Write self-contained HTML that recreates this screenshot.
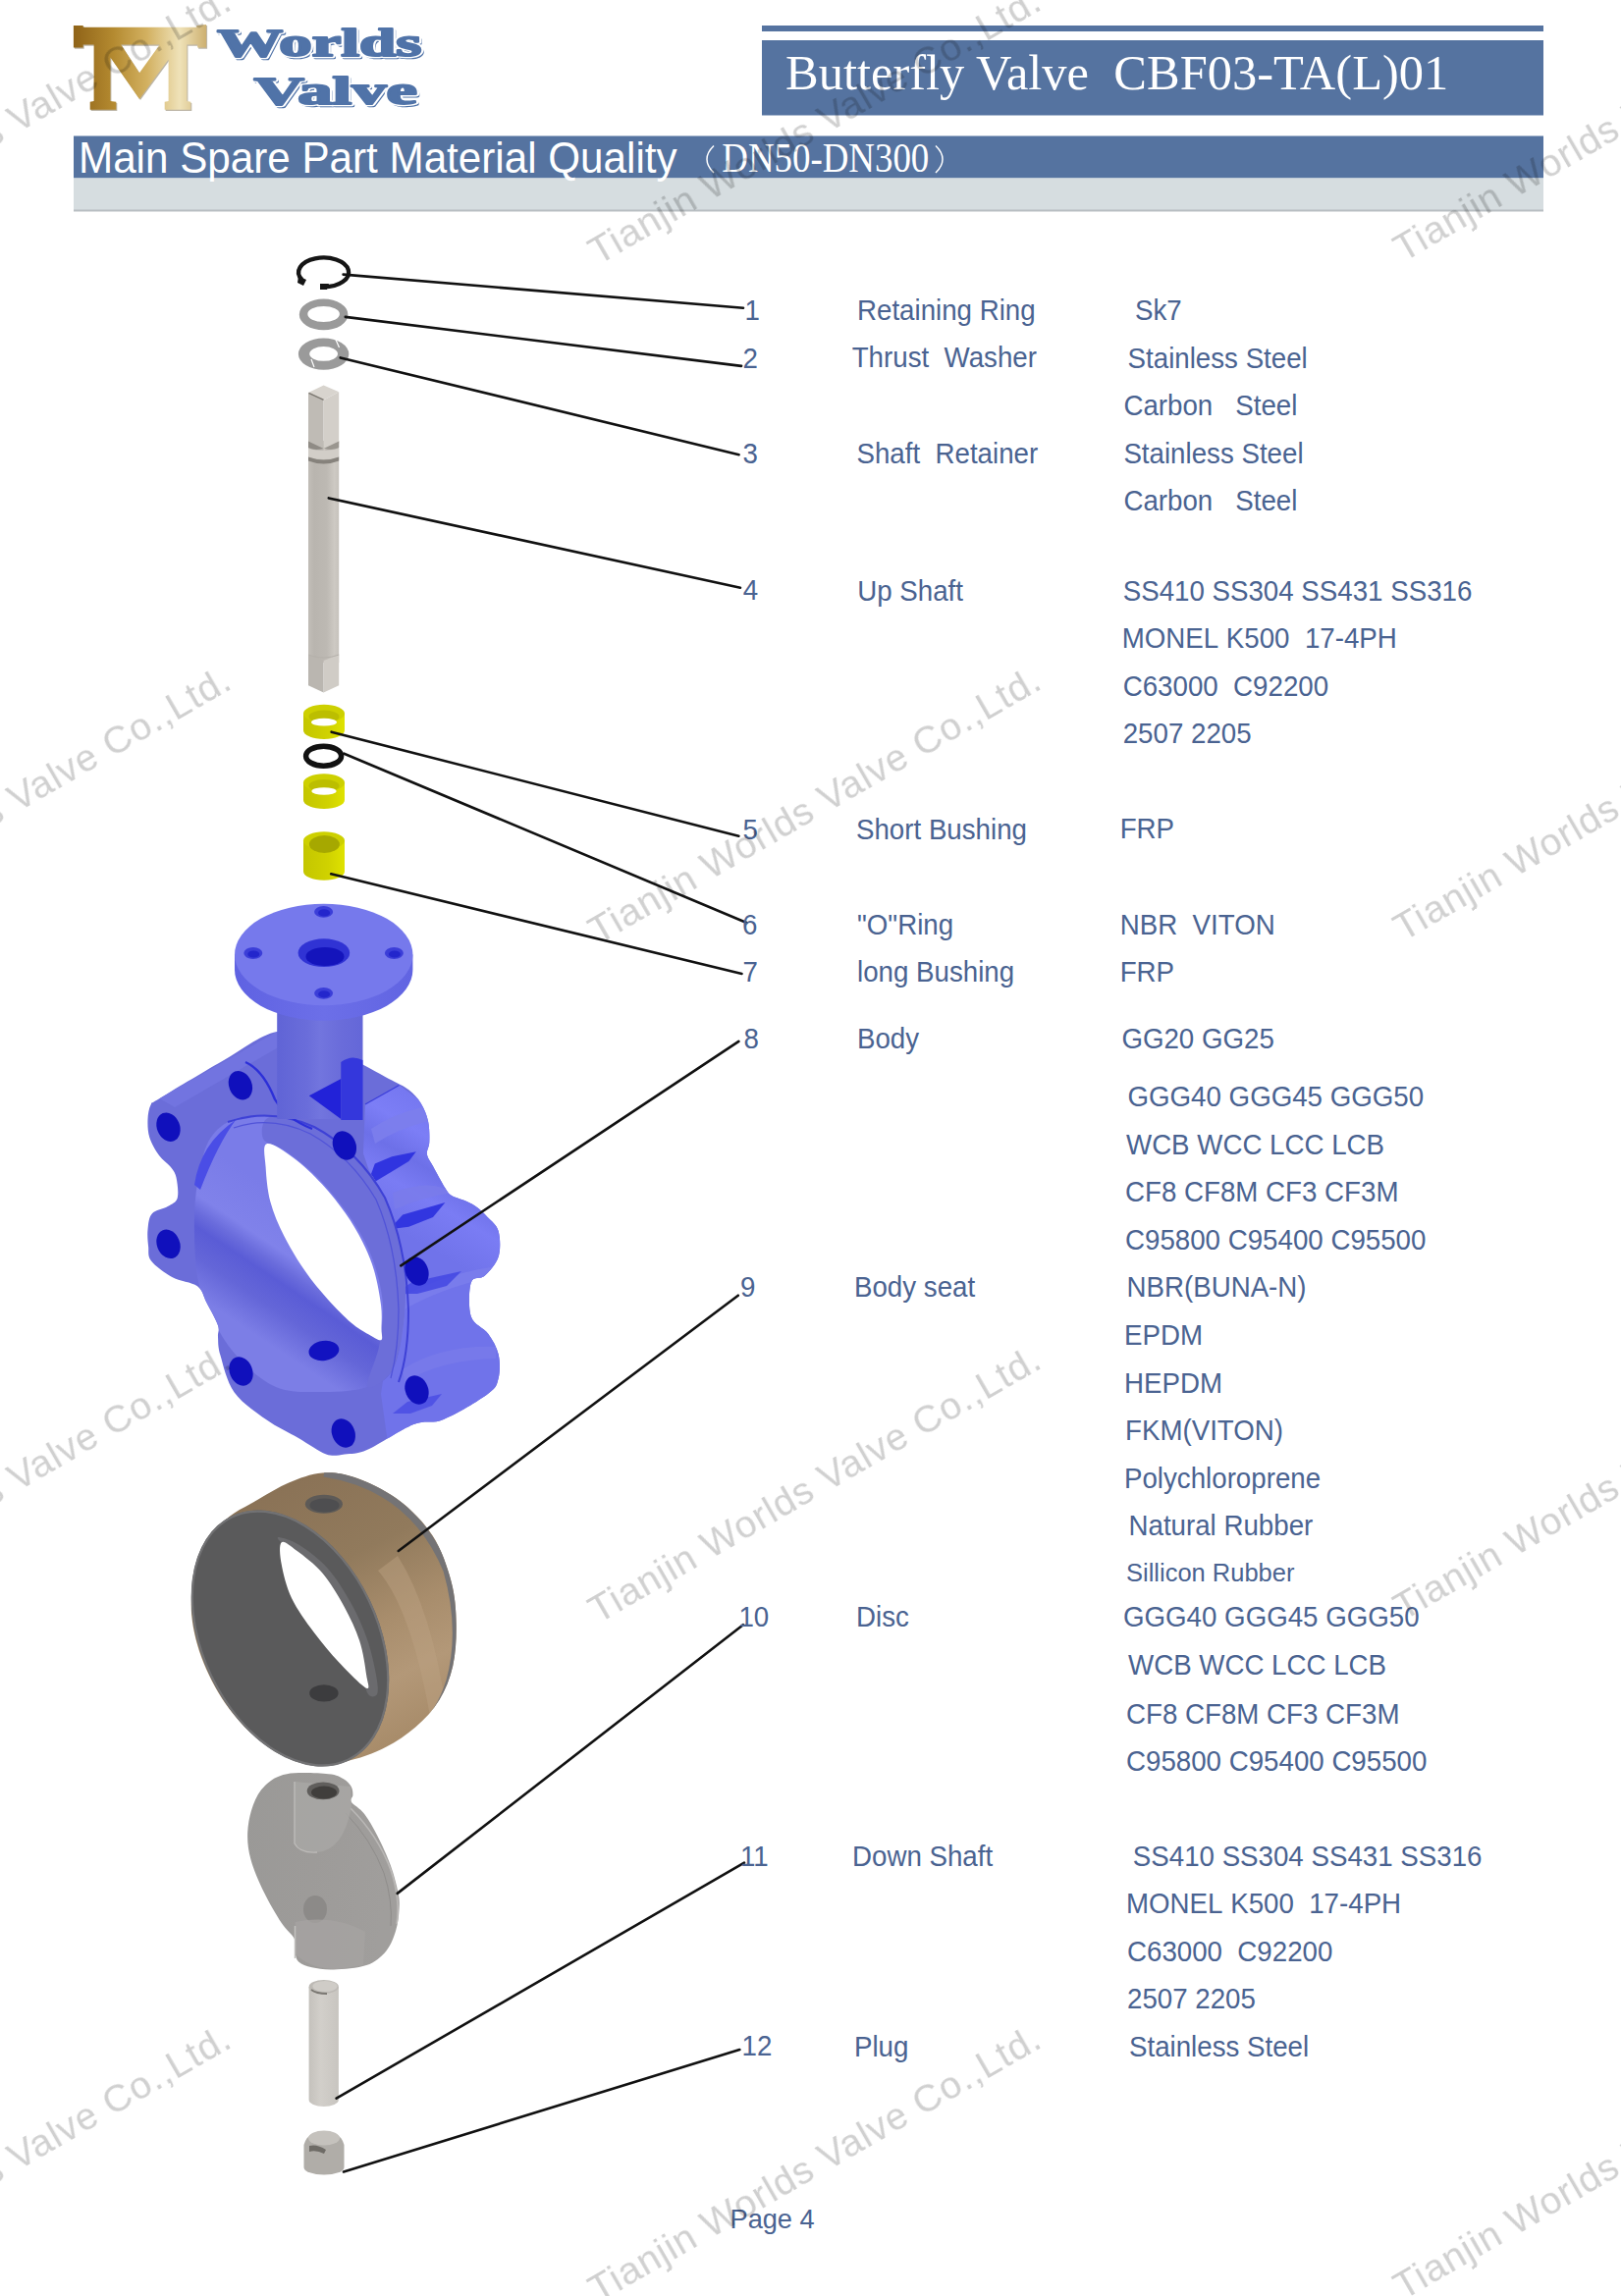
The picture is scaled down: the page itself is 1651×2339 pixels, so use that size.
<!DOCTYPE html>
<html><head><meta charset="utf-8"><style>
html,body{margin:0;padding:0;background:#fff;}
body{width:1651px;height:2339px;overflow:hidden;position:relative;}
svg{position:absolute;left:0;top:0;display:block;}
svg{font-family:"Liberation Sans",sans-serif;}
</style></head><body>
<svg width="1651" height="2339" viewBox="0 0 1651 2339" xmlns="http://www.w3.org/2000/svg">
<defs>
<linearGradient id="gold" x1="0" x2="1" y1="0" y2="0"><stop offset="0" stop-color="#8f6318"/><stop offset="0.3" stop-color="#b48a30"/><stop offset="0.55" stop-color="#d2b060"/><stop offset="0.8" stop-color="#efe2b8"/><stop offset="1" stop-color="#cdb070"/></linearGradient>
</defs>
<path d="M74.9,25.9 L84.7,25.9 L84.7,27.8 L200.2,27.8 L200.2,25.9 L210.1,24.9 L210.1,48.6 L201.2,48.6 L201.2,45.6 L190.4,45.6 L190.4,102.9 L194.3,103.8 L194.3,111.7 L167.7,111.7 L167.7,103.8 L171.6,102.9 L171.6,60.4 L142,100.9 L112.4,58.4 L112.4,102.9 L118.3,103.8 L118.3,111.7 L91.7,111.7 L91.7,103.8 L95.6,102.9 L95.6,45.6 L84.7,45.6 L84.7,48.6 L74.9,48.6Z M123.2,45.6 L162.7,45.6 L142,74.2Z" fill="#6b5a3a" fill-rule="evenodd" transform="translate(1 1.2)" opacity="0.45"/>
<path d="M74.9,25.9 L84.7,25.9 L84.7,27.8 L200.2,27.8 L200.2,25.9 L210.1,24.9 L210.1,48.6 L201.2,48.6 L201.2,45.6 L190.4,45.6 L190.4,102.9 L194.3,103.8 L194.3,111.7 L167.7,111.7 L167.7,103.8 L171.6,102.9 L171.6,60.4 L142,100.9 L112.4,58.4 L112.4,102.9 L118.3,103.8 L118.3,111.7 L91.7,111.7 L91.7,103.8 L95.6,102.9 L95.6,45.6 L84.7,45.6 L84.7,48.6 L74.9,48.6Z M123.2,45.6 L162.7,45.6 L142,74.2Z" fill="url(#gold)" fill-rule="evenodd"/>
<g font-family="Liberation Serif" font-weight="bold" font-size="40" style="font-family:'Liberation Serif',serif" stroke-linejoin="round">
<text x="223.2" y="58.8" textLength="208" lengthAdjust="spacingAndGlyphs" fill="#5073a8" stroke="#5073a8" stroke-width="2.6">Worlds</text>
<text x="221.2" y="56.8" textLength="208" lengthAdjust="spacingAndGlyphs" fill="#fff" stroke="#fff" stroke-width="4.6">Worlds</text>
<text x="221.2" y="56.8" textLength="208" lengthAdjust="spacingAndGlyphs" fill="#5073a8" stroke="#5073a8" stroke-width="2">Worlds</text>
<text x="260.8" y="108" textLength="166" lengthAdjust="spacingAndGlyphs" fill="#5073a8" stroke="#5073a8" stroke-width="2.6">Valve</text>
<text x="258.8" y="106" textLength="166" lengthAdjust="spacingAndGlyphs" fill="#fff" stroke="#fff" stroke-width="4.6">Valve</text>
<text x="258.8" y="106" textLength="166" lengthAdjust="spacingAndGlyphs" fill="#5073a8" stroke="#5073a8" stroke-width="2">Valve</text>
</g>
<rect x="776" y="26" width="796" height="6" fill="#5573a0"/>
<rect x="776" y="41" width="796" height="76.5" fill="#5573a0"/>
<text x="800" y="90.5" font-family="Liberation Serif" font-size="50.5" fill="#fff" style="font-family:'Liberation Serif',serif">Butterfly Valve&#160; CBF03-TA(L)01</text>
<rect x="75" y="138.5" width="1497" height="43" fill="#5573a0"/>
<rect x="75" y="181.5" width="1497" height="33.5" fill="#d6dde0"/>
<rect x="75" y="213.5" width="1497" height="2" fill="#b8bec2"/>
<text x="80" y="176" font-size="42.2" fill="#fff" transform="translate(0 176) scale(1 1.06) translate(0 -176)">Main Spare Part Material Quality</text>
<text x="735.3" y="175.1" font-family="Liberation Serif" font-size="42.7" fill="#fff" textLength="211" lengthAdjust="spacingAndGlyphs" style="font-family:'Liberation Serif',serif">DN50-DN300</text>
<path d="M727,148.5 Q713,162 727,176" fill="none" stroke="#fff" stroke-width="1.5"/>
<path d="M953,148.5 Q967,162 953,176" fill="none" stroke="#fff" stroke-width="1.5"/>

<path d="M329.6,292.3 A25.5,14.9 0 1 0 307.5,284.8" fill="none" stroke="#151515" stroke-width="4.3"/>
<path d="M304,281 L312,285 L309,291 L303,288Z" fill="#151515"/>
<path d="M326,289 L335,289 L333,295 L326,295Z" fill="#151515"/>
<path d="M354.4,320.4 A24.8,15.9 0 1 0 304.8,320.4 A24.8,15.9 0 1 0 354.4,320.4Z M345.9,320 A16.3,8.1 0 1 1 313.3,320 A16.3,8.1 0 1 1 345.9,320Z" fill="#9a9a9a" fill-rule="evenodd"/>
<path d="M355.3,360.7 A25.7,16.1 0 1 0 303.9,360.7 A25.7,16.1 0 1 0 355.3,360.7Z M344,360.4 A14.4,7.4 0 1 1 315.2,360.4 A14.4,7.4 0 1 1 344,360.4Z" fill="#9a9a9a" fill-rule="evenodd"/>
<path d="M342,346 L345.5,354 M317,366 L320,374" stroke="#fff" stroke-width="1.2"/>
<defs><linearGradient id="shg" x1="0" x2="1" y1="0" y2="0"><stop offset="0" stop-color="#c2beb8"/><stop offset="0.2" stop-color="#b9b5af"/><stop offset="0.6" stop-color="#bdb9b3"/><stop offset="0.85" stop-color="#cdc9c3"/><stop offset="1" stop-color="#c6c2bc"/></linearGradient><linearGradient id="yel" x1="0" x2="1" y1="0" y2="0"><stop offset="0" stop-color="#c4c600"/><stop offset="0.6" stop-color="#d0d200"/><stop offset="1" stop-color="#dfe200"/></linearGradient><linearGradient id="pin" x1="0" x2="1" y1="0" y2="0"><stop offset="0" stop-color="#c4c1bc"/><stop offset="0.4" stop-color="#d2cfca"/><stop offset="1" stop-color="#c8c5c0"/></linearGradient><linearGradient id="brz" x1="0" x2="1" y1="0" y2="0.3"><stop offset="0" stop-color="#9c7e58"/><stop offset="0.5" stop-color="#a88a62"/><stop offset="0.75" stop-color="#b49672"/><stop offset="1" stop-color="#9e8060"/></linearGradient></defs>
<rect x="314" y="449" width="31.2" height="226" fill="url(#shg)"/>
<path d="M314,400 L329.6,407.4 L329.6,459 L314,452Z" fill="#bfbbb5"/>
<path d="M329.6,407.4 L345.2,399.3 L345.2,452 L329.6,459Z" fill="#d3cfc9"/>
<path d="M314,400 L329.6,392.6 L345.2,399.3 L329.6,407.4Z" fill="#d8d4ce"/>
<path d="M314.5,400.3 L329.6,407.4" stroke="#7a766f" stroke-width="1.4"/>
<path d="M314,449.5 L329.6,457 Q320,459.5 314,456Z" fill="#8f8b85"/>
<path d="M345.2,449.5 L329.6,457 Q339,459.5 345.2,456Z" fill="#9a968f"/>
<path d="M314,457 Q329.6,461 345.2,457 L345.2,466 Q329.6,470 314,466Z" fill="#d2cec8"/>
<path d="M314,465.5 Q329.6,471.5 345.2,465.5 L345.2,469.5 Q329.6,475.5 314,469.5Z" fill="#86827c"/>
<path d="M314,667 L329.6,673 L329.6,705.6 L314,698.2Z" fill="#bab6b0"/>
<path d="M329.6,673 L345.2,667 L345.2,698.2 L329.6,705.6Z" fill="#d0ccc6"/>
<path d="M314,667 Q329.6,673 345.2,667" fill="none" stroke="#b5b1ab" stroke-width="1"/>
<path d="M309,726.8 L309,744 A21,9 0 0 0 351,744 L351,726.8Z" fill="url(#yel)"/><ellipse cx="330" cy="726.8" rx="21" ry="9" fill="#cdd000"/><ellipse cx="330" cy="730" rx="15.5" ry="6.5" fill="#bcbe00"/><ellipse cx="330" cy="735.7" rx="13" ry="3.9" fill="#fff"/>
<ellipse cx="329.6" cy="770.2" rx="18" ry="10" fill="none" stroke="#111" stroke-width="5.5"/>
<path d="M309,797.3 L309,815 A21,9 0 0 0 351,815 L351,797.3Z" fill="url(#yel)"/><ellipse cx="330" cy="797.3" rx="21" ry="9" fill="#cdd000"/><ellipse cx="330" cy="800.5" rx="15.5" ry="6.5" fill="#bcbe00"/><ellipse cx="330" cy="806" rx="12.6" ry="3.8" fill="#fff"/>
<path d="M309,856.3 L309,887.7 A21,9 0 0 0 351,887.7 L351,856.3Z" fill="url(#yel)"/><ellipse cx="330" cy="856.3" rx="21" ry="9" fill="#cdd000"/><ellipse cx="330.4" cy="860" rx="15.5" ry="9" fill="#a6a800"/><defs><linearGradient id="neck" x1="0" x2="1"><stop offset="0" stop-color="#6064d6"/><stop offset="0.35" stop-color="#6a6dda"/><stop offset="0.5" stop-color="#7275de"/><stop offset="0.75" stop-color="#6a6cda"/><stop offset="1" stop-color="#6467d8"/></linearGradient><linearGradient id="flside" x1="0" x2="1"><stop offset="0" stop-color="#5f62e2"/><stop offset="0.5" stop-color="#6c6fe8"/><stop offset="1" stop-color="#6164e2"/></linearGradient><linearGradient id="inner" gradientUnits="userSpaceOnUse" x1="290" y1="1220" x2="200" y2="1355"><stop offset="0" stop-color="#7a7ce8"/><stop offset="0.29" stop-color="#8082ea"/><stop offset="0.38" stop-color="#6a6cdc"/><stop offset="0.46" stop-color="#5a5cd6"/><stop offset="0.62" stop-color="#6466d8"/><stop offset="0.82" stop-color="#7c7ee6"/><stop offset="1" stop-color="#7c7ee6"/></linearGradient><linearGradient id="lugside" gradientUnits="userSpaceOnUse" x1="400" y1="1250" x2="470" y2="1130"><stop offset="0" stop-color="#7073ea"/><stop offset="0.3" stop-color="#7a7cf4"/><stop offset="0.5" stop-color="#6d70e8"/><stop offset="0.7" stop-color="#7c7ef6"/><stop offset="1" stop-color="#7375ee"/></linearGradient><clipPath id="bclip"><path d="M282.2,1051.0C264.9,1054.2 246.4,1069.6 226.4,1081.0C206.4,1092.4 174.3,1111.8 162.2,1119.2C150.1,1126.6 155.5,1121.9 153.6,1125.4C151.7,1128.9 150.7,1134.7 150.5,1140.2C150.3,1145.8 150.4,1152.5 152.3,1158.7C154.2,1164.9 158.7,1172.3 162.2,1177.2C165.7,1182.1 170.4,1184.6 173.3,1188.3C176.2,1192.0 178.3,1194.1 179.5,1199.4C180.7,1204.8 182.1,1215.5 180.7,1220.4C179.2,1225.3 175.1,1226.3 170.8,1229.0C166.5,1231.7 158.2,1232.5 154.8,1236.4C151.4,1240.3 151.1,1246.9 150.5,1252.5C149.9,1258.1 150.5,1264.5 151.1,1269.8C151.7,1275.1 150.0,1279.3 154.0,1284.5C158.0,1289.7 167.4,1296.7 175.2,1301.0C183.0,1305.3 195.2,1306.0 201.0,1310.3C206.8,1314.6 206.8,1320.0 210.3,1326.7C213.8,1333.4 220.1,1344.3 222.0,1350.2C223.9,1356.1 221.6,1356.8 222.0,1361.9C222.4,1367.0 221.7,1371.2 224.4,1380.6C227.2,1390.0 230.7,1407.2 238.5,1418.2C246.3,1429.2 260.4,1438.5 271.3,1446.3C282.2,1454.1 293.9,1459.2 304.0,1465.0C314.1,1470.8 324.4,1478.7 332.2,1481.4C340.0,1484.1 344.0,1482.2 351.0,1481.4C358.0,1480.6 362.7,1481.9 374.4,1476.8C386.1,1471.7 408.4,1456.2 421.3,1451.0C434.2,1445.8 439.4,1451.1 452.0,1445.9C464.6,1440.7 487.9,1426.7 497.2,1419.7C506.5,1412.7 505.9,1410.7 507.7,1404.0C509.4,1397.3 509.4,1387.2 507.7,1379.7C505.9,1372.2 501.8,1365.1 497.2,1358.7C492.6,1352.3 482.7,1350.0 479.8,1341.3C476.9,1332.6 477.5,1313.5 479.8,1306.5C482.1,1299.5 489.2,1303.9 493.8,1299.5C498.4,1295.1 505.4,1287.8 507.7,1280.3C510.0,1272.8 509.5,1260.9 507.7,1254.2C505.9,1247.5 500.5,1244.1 496.6,1239.9C492.7,1235.7 488.3,1231.7 484.2,1228.8C480.1,1225.9 476.0,1224.4 471.9,1222.6C467.8,1220.8 462.7,1219.8 459.6,1217.7C456.5,1215.7 456.5,1215.2 453.4,1210.3C450.3,1205.3 444.1,1193.8 441.0,1188.0C437.9,1182.2 435.5,1179.8 434.9,1175.7C434.3,1171.6 437.1,1169.0 437.3,1163.4C437.5,1157.9 437.5,1149.0 436.1,1142.4C434.7,1135.8 432.0,1129.2 428.7,1123.9C425.4,1118.6 421.3,1114.2 416.4,1110.3C411.5,1106.4 406.9,1104.8 399.1,1100.5C391.3,1096.2 381.0,1090.8 369.5,1084.4C358.0,1078.0 344.6,1067.6 330.0,1062.0C315.4,1056.4 299.5,1047.8 282.2,1051.0Z"/></clipPath></defs>
<path d="M282.2,1051.0C264.9,1054.2 246.4,1069.6 226.4,1081.0C206.4,1092.4 174.3,1111.8 162.2,1119.2C150.1,1126.6 155.5,1121.9 153.6,1125.4C151.7,1128.9 150.7,1134.7 150.5,1140.2C150.3,1145.8 150.4,1152.5 152.3,1158.7C154.2,1164.9 158.7,1172.3 162.2,1177.2C165.7,1182.1 170.4,1184.6 173.3,1188.3C176.2,1192.0 178.3,1194.1 179.5,1199.4C180.7,1204.8 182.1,1215.5 180.7,1220.4C179.2,1225.3 175.1,1226.3 170.8,1229.0C166.5,1231.7 158.2,1232.5 154.8,1236.4C151.4,1240.3 151.1,1246.9 150.5,1252.5C149.9,1258.1 150.5,1264.5 151.1,1269.8C151.7,1275.1 150.0,1279.3 154.0,1284.5C158.0,1289.7 167.4,1296.7 175.2,1301.0C183.0,1305.3 195.2,1306.0 201.0,1310.3C206.8,1314.6 206.8,1320.0 210.3,1326.7C213.8,1333.4 220.1,1344.3 222.0,1350.2C223.9,1356.1 221.6,1356.8 222.0,1361.9C222.4,1367.0 221.7,1371.2 224.4,1380.6C227.2,1390.0 230.7,1407.2 238.5,1418.2C246.3,1429.2 260.4,1438.5 271.3,1446.3C282.2,1454.1 293.9,1459.2 304.0,1465.0C314.1,1470.8 324.4,1478.7 332.2,1481.4C340.0,1484.1 344.0,1482.2 351.0,1481.4C358.0,1480.6 362.7,1481.9 374.4,1476.8C386.1,1471.7 408.4,1456.2 421.3,1451.0C434.2,1445.8 439.4,1451.1 452.0,1445.9C464.6,1440.7 487.9,1426.7 497.2,1419.7C506.5,1412.7 505.9,1410.7 507.7,1404.0C509.4,1397.3 509.4,1387.2 507.7,1379.7C505.9,1372.2 501.8,1365.1 497.2,1358.7C492.6,1352.3 482.7,1350.0 479.8,1341.3C476.9,1332.6 477.5,1313.5 479.8,1306.5C482.1,1299.5 489.2,1303.9 493.8,1299.5C498.4,1295.1 505.4,1287.8 507.7,1280.3C510.0,1272.8 509.5,1260.9 507.7,1254.2C505.9,1247.5 500.5,1244.1 496.6,1239.9C492.7,1235.7 488.3,1231.7 484.2,1228.8C480.1,1225.9 476.0,1224.4 471.9,1222.6C467.8,1220.8 462.7,1219.8 459.6,1217.7C456.5,1215.7 456.5,1215.2 453.4,1210.3C450.3,1205.3 444.1,1193.8 441.0,1188.0C437.9,1182.2 435.5,1179.8 434.9,1175.7C434.3,1171.6 437.1,1169.0 437.3,1163.4C437.5,1157.9 437.5,1149.0 436.1,1142.4C434.7,1135.8 432.0,1129.2 428.7,1123.9C425.4,1118.6 421.3,1114.2 416.4,1110.3C411.5,1106.4 406.9,1104.8 399.1,1100.5C391.3,1096.2 381.0,1090.8 369.5,1084.4C358.0,1078.0 344.6,1067.6 330.0,1062.0C315.4,1056.4 299.5,1047.8 282.2,1051.0Z" fill="#6b6dd9"/>
<g clip-path="url(#bclip)">
<path d="M372,1125 L406,1105 L440,1130 L460,1215 L510,1240 L510,1420 L452,1446 L395,1470 L388,1420 L402,1330 L392,1240 L370,1175Z" fill="url(#lugside)"/>
<path d="M378,1150 Q400,1135 430,1128 L436,1142 Q405,1150 382,1165Z" fill="#7c7eec" opacity="0.9"/>
<path d="M395,1330 Q440,1300 505,1290 L506,1300 Q445,1312 398,1342Z" fill="#7c7eec" opacity="0.8"/>
<path d="M400,1215 Q440,1200 460,1215 Q430,1220 402,1232Z" fill="#7a7cea" opacity="0.8"/>
<path d="M410,1395 Q450,1370 505,1372 L505,1384 Q450,1385 412,1408Z" fill="#7a7cea" opacity="0.7"/>
<path d="M373.2,1209 L381.8,1185.6 L399.1,1178.2 L423.8,1173.3 L416.4,1183.1 L397.9,1194.2Z" fill="#3034e0"/>
<path d="M396.6,1252.2 L410.2,1237.4 L453.4,1225.1 L441,1240 L416.4,1249.8Z" fill="#3236e0"/>
<path d="M402,1318 L420,1306 L470,1295 L455,1310 L425,1318Z" fill="#4043e2" opacity="0.8"/>
<path d="M400,1440 L415,1428 L450,1420 L440,1432 L418,1440Z" fill="#4346e2" opacity="0.7"/>
<path d="M372,1125 L406.5,1105.4" stroke="#3a3dd8" stroke-width="1.2"/>
<path d="M162,1119 L282,1051 L292,1062 L178,1128Z" fill="#7577e2" opacity="0.7"/>
<path d="M238.7,1140.0C248.9,1136.3 261.4,1136.3 275.0,1138.0C288.6,1139.7 305.8,1143.8 320.0,1150.0C334.2,1156.2 348.0,1163.3 360.0,1175.0C372.0,1186.7 383.7,1202.5 392.0,1220.0C400.3,1237.5 406.7,1260.0 410.0,1280.0C413.3,1300.0 413.7,1320.8 412.0,1340.0C410.3,1359.2 406.3,1382.8 400.0,1395.0C393.7,1407.2 385.7,1409.2 374.0,1413.0C362.3,1416.8 345.5,1418.0 330.0,1418.0C314.5,1418.0 296.0,1419.3 281.0,1413.0C266.0,1406.7 251.0,1392.2 240.0,1380.0C229.0,1367.8 221.5,1353.3 215.0,1340.0C208.5,1326.7 203.8,1316.7 201.0,1300.0C198.2,1283.3 197.7,1257.5 198.0,1240.0C198.3,1222.5 200.3,1208.3 203.0,1195.0C205.7,1181.7 208.1,1169.2 214.0,1160.0C219.9,1150.8 228.5,1143.7 238.7,1140.0Z" fill="url(#inner)"/>
<path d="M198,1207 Q204,1165 240,1141 Q222,1165 204,1212Z" fill="#4a4de6"/>
<path d="M275.0,1138.0C283.7,1136.3 305.8,1143.8 320.0,1150.0C334.2,1156.2 348.0,1163.3 360.0,1175.0C372.0,1186.7 383.7,1202.5 392.0,1220.0C400.3,1237.5 406.7,1260.0 410.0,1280.0C413.3,1300.0 413.7,1320.8 412.0,1340.0C410.3,1359.2 406.3,1382.8 400.0,1395.0C393.7,1407.2 376.3,1416.8 374.0,1413.0C371.7,1409.2 383.3,1385.8 386.0,1372.0C388.7,1358.2 390.7,1343.7 390.0,1330.0C389.3,1316.3 385.7,1302.0 382.0,1290.0C378.3,1278.0 373.7,1268.3 368.0,1258.0C362.3,1247.7 356.0,1238.3 348.0,1228.0C340.0,1217.7 329.7,1205.3 320.0,1196.0C310.3,1186.7 298.7,1178.0 290.0,1172.0C281.3,1166.0 270.5,1165.7 268.0,1160.0C265.5,1154.3 266.3,1139.7 275.0,1138.0Z" fill="#6c6ed9"/>
<path d="M232,1143 Q275,1128 320,1148 Q365,1172 392,1220 Q414,1270 416,1335 Q416,1380 406,1408" fill="none" stroke="#3e41d6" stroke-width="2"/>
<path d="M238,1149 Q276,1136 316,1155 Q357,1178 383,1222 Q404,1270 406,1334 Q406,1374 398,1404" fill="none" stroke="#5053d8" stroke-width="1.3"/>
<path d="M250,1082 Q268,1090 280,1120 Q292,1140 318,1150" fill="none" stroke="#2c2fd8" stroke-width="2.4"/>
</g>
<path d="M271.7,1165.3C276.4,1163.7 289.4,1172.6 298.8,1179.4C308.2,1186.2 319.4,1197.0 328.2,1206.4C337.0,1215.8 344.8,1226.0 351.7,1235.8C358.6,1245.6 364.4,1255.4 369.3,1265.2C374.2,1275.0 378.0,1283.8 381.1,1294.6C384.2,1305.4 386.9,1320.1 388.1,1329.9C389.3,1339.7 388.5,1347.5 388.5,1353.4C388.5,1359.3 390.3,1364.2 388.1,1365.2C385.9,1366.2 380.3,1362.2 375.2,1359.3C370.1,1356.3 364.5,1353.4 357.6,1347.5C350.8,1341.6 342.0,1332.8 334.1,1324.0C326.2,1315.2 317.9,1305.4 310.5,1294.6C303.1,1283.8 295.3,1271.1 289.4,1259.3C283.5,1247.5 278.4,1235.8 275.3,1224.0C272.2,1212.2 271.2,1198.6 270.6,1188.8C270.0,1179.0 267.0,1166.9 271.7,1165.3Z" fill="#fff"/>
<ellipse cx="244.9" cy="1105.7" rx="11.6" ry="15.2" transform="rotate(-22 244.9 1105.7)" fill="#1010bc"/>
<ellipse cx="171.5" cy="1148.2" rx="11.6" ry="15.2" transform="rotate(-22 171.5 1148.2)" fill="#1010bc"/>
<ellipse cx="171.5" cy="1267.3" rx="11.6" ry="15.2" transform="rotate(-22 171.5 1267.3)" fill="#1010bc"/>
<ellipse cx="245.5" cy="1397" rx="11.6" ry="15.2" transform="rotate(-22 245.5 1397)" fill="#1010bc"/>
<ellipse cx="349.8" cy="1460" rx="11.6" ry="15.2" transform="rotate(-22 349.8 1460)" fill="#1010bc"/>
<ellipse cx="424.5" cy="1416" rx="11.6" ry="15.2" transform="rotate(-22 424.5 1416)" fill="#1010bc"/>
<ellipse cx="424.5" cy="1295" rx="11.6" ry="15.2" transform="rotate(-22 424.5 1295)" fill="#1010bc"/>
<ellipse cx="350.9" cy="1167" rx="11.6" ry="15.2" transform="rotate(-22 350.9 1167)" fill="#1010bc"/>
<ellipse cx="329.9" cy="1376" rx="15.5" ry="10" transform="rotate(-8 329.9 1376)" fill="#1212c0"/>
<rect x="282.2" y="1030" width="87.3" height="110" fill="url(#neck)"/>
<path d="M314.8,1116.2 L347.3,1099 L347.3,1139.9Z" fill="#2222d8"/>
<path d="M347.3,1082 Q358,1074 369.5,1080 L369.5,1141 L347.3,1141Z" fill="#3437dc"/>
<path d="M239,972.5 L239,988 A90.7,51.8 0 0 0 420.4,988 L420.4,972.5Z" fill="url(#flside)"/>
<ellipse cx="329.7" cy="972.5" rx="90.7" ry="51.8" fill="#7679ec"/>
<ellipse cx="329.9" cy="970.7" rx="26.3" ry="14.4" fill="#3033d4"/>
<ellipse cx="331" cy="974.5" rx="19.5" ry="9.5" fill="#1414bc"/>
<ellipse cx="329.6" cy="928.9" rx="9.5" ry="5.9" fill="#3b3ed8"/><ellipse cx="330.1" cy="929.9" rx="6" ry="3.6" fill="#2326cc"/>
<ellipse cx="257.8" cy="971" rx="9.5" ry="5.9" fill="#3b3ed8"/><ellipse cx="258.3" cy="972" rx="6" ry="3.6" fill="#2326cc"/>
<ellipse cx="401.4" cy="971" rx="9.5" ry="5.9" fill="#3b3ed8"/><ellipse cx="401.9" cy="972" rx="6" ry="3.6" fill="#2326cc"/>
<ellipse cx="329.6" cy="1011.8" rx="9.5" ry="5.9" fill="#3b3ed8"/><ellipse cx="330.1" cy="1012.8" rx="6" ry="3.6" fill="#2326cc"/><defs><linearGradient id="brz2" gradientUnits="userSpaceOnUse" x1="300" y1="1500" x2="430" y2="1760"><stop offset="0" stop-color="#8a7256"/><stop offset="0.35" stop-color="#917a5c"/><stop offset="0.6" stop-color="#a88d6c"/><stop offset="0.8" stop-color="#b39878"/><stop offset="1" stop-color="#a88c6a"/></linearGradient><linearGradient id="dsc" x1="0" x2="1" y1="0" y2="0.2"><stop offset="0" stop-color="#9a9997"/><stop offset="0.5" stop-color="#9d9b99"/><stop offset="1" stop-color="#a09e9c"/></linearGradient><linearGradient id="pin" x1="0" x2="1" y1="0" y2="0"><stop offset="0" stop-color="#c4c1bc"/><stop offset="0.4" stop-color="#d2cfca"/><stop offset="1" stop-color="#c8c5c0"/></linearGradient></defs>
<clipPath id="sclip"><path d="M328.2,1500.4C339.7,1499.5 349.8,1500.9 362.7,1505.5C375.6,1510.1 392.9,1518.2 405.9,1528.0C418.9,1537.8 431.6,1550.5 440.5,1564.3C449.4,1578.1 455.5,1595.9 459.5,1610.9C463.5,1625.9 464.4,1639.7 464.7,1654.1C465.0,1668.5 464.1,1684.3 461.2,1697.3C458.3,1710.2 453.7,1721.4 447.4,1731.8C441.1,1742.2 433.0,1751.2 423.2,1759.5C413.4,1767.8 401.6,1775.9 388.7,1781.9C375.8,1788.0 358.5,1793.5 345.5,1795.8C332.5,1798.1 323.9,1799.3 310.9,1795.8C297.9,1792.3 280.6,1784.2 267.7,1775.0C254.8,1765.8 243.3,1754.0 233.2,1740.5C223.1,1727.0 213.6,1709.6 207.3,1693.8C201.0,1678.0 196.6,1660.8 195.2,1645.5C193.8,1630.2 195.7,1615.3 198.6,1602.3C201.5,1589.3 206.7,1577.2 212.5,1567.7C218.3,1558.2 225.4,1551.6 233.2,1545.3C241.0,1539.0 249.0,1535.5 259.1,1529.7C269.2,1523.9 282.1,1515.6 293.6,1510.7C305.1,1505.8 316.7,1501.3 328.2,1500.4Z"/></clipPath>
<path d="M328.2,1500.4C339.7,1499.5 349.8,1500.9 362.7,1505.5C375.6,1510.1 392.9,1518.2 405.9,1528.0C418.9,1537.8 431.6,1550.5 440.5,1564.3C449.4,1578.1 455.5,1595.9 459.5,1610.9C463.5,1625.9 464.4,1639.7 464.7,1654.1C465.0,1668.5 464.1,1684.3 461.2,1697.3C458.3,1710.2 453.7,1721.4 447.4,1731.8C441.1,1742.2 433.0,1751.2 423.2,1759.5C413.4,1767.8 401.6,1775.9 388.7,1781.9C375.8,1788.0 358.5,1793.5 345.5,1795.8C332.5,1798.1 323.9,1799.3 310.9,1795.8C297.9,1792.3 280.6,1784.2 267.7,1775.0C254.8,1765.8 243.3,1754.0 233.2,1740.5C223.1,1727.0 213.6,1709.6 207.3,1693.8C201.0,1678.0 196.6,1660.8 195.2,1645.5C193.8,1630.2 195.7,1615.3 198.6,1602.3C201.5,1589.3 206.7,1577.2 212.5,1567.7C218.3,1558.2 225.4,1551.6 233.2,1545.3C241.0,1539.0 249.0,1535.5 259.1,1529.7C269.2,1523.9 282.1,1515.6 293.6,1510.7C305.1,1505.8 316.7,1501.3 328.2,1500.4Z" fill="url(#brz2)"/>
<g clip-path="url(#sclip)">
<path d="M385,1600 Q420,1640 440,1760 L455,1745 Q440,1640 405,1585Z" fill="#bca282" opacity="0.45"/>
<path d="M330,1501 Q420,1515 455,1600 Q472,1660 458,1712 Q448,1745 425,1765" fill="none" stroke="#747375" stroke-width="7"/>
</g>
<ellipse cx="295.5" cy="1669" rx="90" ry="138" transform="rotate(-25.5 295.5 1669)" fill="#5a5a5b"/>
<ellipse cx="295.5" cy="1669" rx="89" ry="137" transform="rotate(-25.5 295.5 1669)" fill="none" stroke="#727274" stroke-width="2.2"/>
<path d="M284.0,1566.0C287.1,1566.5 296.7,1568.7 305.0,1574.0C313.3,1579.3 325.2,1588.0 334.0,1598.0C342.8,1608.0 351.3,1622.0 358.0,1634.0C364.7,1646.0 369.8,1658.0 374.0,1670.0C378.2,1682.0 381.3,1696.7 383.0,1706.0C384.7,1715.3 385.6,1723.3 384.0,1726.0C382.4,1728.7 376.1,1731.1 373.1,1722.0C370.1,1712.9 369.9,1685.6 366.2,1671.4C362.4,1657.2 356.9,1648.3 350.6,1636.8C344.3,1625.3 336.2,1611.8 328.2,1602.3C320.1,1592.8 309.2,1585.0 302.3,1579.8C295.4,1574.6 289.8,1573.5 286.7,1571.2C283.6,1568.9 280.9,1565.5 284.0,1566.0Z" fill="#6b6b6e"/>
<path d="M286.7,1571.2C289.3,1568.9 295.4,1574.6 302.3,1579.8C309.2,1585.0 320.1,1592.8 328.2,1602.3C336.2,1611.8 344.3,1625.3 350.6,1636.8C356.9,1648.3 362.4,1659.9 366.2,1671.4C369.9,1682.9 372.0,1697.9 373.1,1705.9C374.2,1714.0 377.7,1721.7 373.1,1719.7C368.5,1717.7 354.4,1703.3 345.5,1693.8C336.6,1684.3 327.7,1673.6 319.6,1662.7C311.5,1651.8 302.6,1639.7 297.1,1628.2C291.6,1616.7 288.4,1603.1 286.7,1593.6C285.0,1584.1 284.1,1573.5 286.7,1571.2Z" fill="#fff"/>
<ellipse cx="329.9" cy="1532.3" rx="19" ry="9.5" fill="#5d5a57"/><ellipse cx="330.5" cy="1533.5" rx="15" ry="7" fill="#4e4e50"/>
<ellipse cx="329.9" cy="1724.9" rx="14.7" ry="8.6" fill="#3c3c3e"/>
<path d="M292.2,1807.2C302.9,1805.2 324.8,1806.4 334.4,1807.2C344.0,1808.0 346.0,1810.1 349.9,1812.2C353.8,1814.3 356.1,1817.2 357.7,1820.0C359.3,1822.8 359.4,1826.3 359.4,1828.9C359.4,1831.5 355.8,1832.4 357.7,1835.5C359.6,1838.6 366.6,1842.0 371.0,1847.7C375.4,1853.5 379.9,1861.3 384.3,1870.0C388.8,1878.7 394.2,1890.4 397.7,1900.0C401.2,1909.6 403.9,1920.3 405.4,1927.7C406.9,1935.1 407.0,1937.8 406.6,1944.3C406.2,1950.8 405.4,1959.4 403.2,1966.6C401.0,1973.8 398.2,1981.8 393.2,1987.7C388.2,1993.6 382.1,1999.0 373.2,2002.1C364.3,2005.2 349.2,2006.1 340.0,2006.5C330.8,2006.9 323.6,2005.6 317.7,2004.3C311.8,2003.0 307.3,2001.4 304.4,1998.8C301.5,1996.2 301.2,1992.7 300.5,1988.8C299.8,1984.9 302.3,1980.4 300.0,1975.4C297.7,1970.4 291.8,1966.8 286.6,1958.8C281.4,1950.8 274.1,1938.4 268.9,1927.7C263.7,1917.0 258.3,1904.6 255.5,1894.4C252.7,1884.2 251.8,1875.8 252.2,1866.6C252.6,1857.3 254.8,1846.9 257.8,1838.9C260.8,1831.0 264.3,1824.2 270.0,1818.9C275.7,1813.6 281.5,1809.2 292.2,1807.2Z" fill="url(#dsc)"/>
<path d="M357,1842 Q385,1870 398,1905 Q408,1935 404,1960" fill="none" stroke="#bab8b6" stroke-width="1.6"/>
<path d="M352,1847 Q378,1874 391,1908 Q400,1936 398,1962" fill="none" stroke="#8f8d8b" stroke-width="1"/>
<path d="M300,1815 L300,1878 Q305,1888 323,1887 Q350,1885 358,1840 L357,1820Z" fill="#a9a7a5" opacity="0.8"/>
<path d="M300,1815 L300,1878 Q305,1888 323,1887" fill="none" stroke="#bdbbb9" stroke-width="1.4"/>
<ellipse cx="329.1" cy="1824.4" rx="16.4" ry="8.9" fill="#605e5c"/><ellipse cx="330" cy="1826" rx="13" ry="6.5" fill="#403e3c"/>
<ellipse cx="321" cy="1945" rx="12" ry="14" fill="#7e7c7a" opacity="0.55"/>
<path d="M300.5,1958 L300.5,1990 Q315,2006 345,2006 L370,2002 L372,1968 Q340,1950 300.5,1958Z" fill="#a6a4a2" opacity="0.7"/>
<path d="M300.5,1962 L300.5,1995" stroke="#c2c0be" stroke-width="1.5"/>
<path d="M314.6,2024 L314.6,2139 A15.15,7 0 0 0 344.9,2139 L344.9,2024Z" fill="url(#pin)"/>
<ellipse cx="329.75" cy="2024" rx="15.15" ry="7" fill="#bdbab5"/>
<ellipse cx="331" cy="2023.5" rx="12.5" ry="5.5" fill="#cfccc7"/>
<path d="M317,2027 Q322,2031 333,2031" fill="none" stroke="#7a7772" stroke-width="1.8"/>
<path d="M309.5,2185 L309.5,2208 A20.5,7.5 0 0 0 350.5,2208 L350.5,2185 Q348,2176 340,2173 L320,2173 Q312,2176 309.5,2185Z" fill="#b0ada8"/>
<ellipse cx="330" cy="2178" rx="16" ry="7.5" fill="#c5c2bd"/>
<path d="M315,2186 Q323,2184 332,2190 L330,2194 Q322,2190 315,2192Z" fill="#6e6b66"/>
<g stroke="#111" stroke-width="2.6" stroke-linecap="round"><line x1="349.6" y1="279.6" x2="757" y2="313.7"/><line x1="351.8" y1="322.9" x2="755.1" y2="372.9"/><line x1="346.7" y1="364.4" x2="752.6" y2="463.3"/><line x1="334.8" y1="507.4" x2="754" y2="598.8"/><line x1="337.6" y1="745.7" x2="752.4" y2="851.7"/><line x1="350.4" y1="767.7" x2="760.4" y2="940"/><line x1="337.2" y1="890.3" x2="755.5" y2="992"/><line x1="408.3" y1="1289.3" x2="752.4" y2="1060.9"/><line x1="405.8" y1="1580" x2="751.8" y2="1319.7"/><line x1="404.7" y1="1928.9" x2="756.9" y2="1655.2"/><line x1="342.6" y1="2137.7" x2="758" y2="1897.7"/><line x1="350" y1="2212.5" x2="753.3" y2="2088"/></g>
<g><text x="758.4" y="325.9" font-size="27.7" fill="#4a6391" transform="translate(0 325.9) scale(1 1.04) translate(0 -325.9)" >1</text><text x="756.5" y="374.6" font-size="27.7" fill="#4a6391" transform="translate(0 374.6) scale(1 1.04) translate(0 -374.6)" >2</text><text x="756.5" y="471.8" font-size="27.7" fill="#4a6391" transform="translate(0 471.8) scale(1 1.04) translate(0 -471.8)" >3</text><text x="756.8" y="611" font-size="27.7" fill="#4a6391" transform="translate(0 611) scale(1 1.04) translate(0 -611)" >4</text><text x="756.5" y="855.5" font-size="27.7" fill="#4a6391" transform="translate(0 855.5) scale(1 1.04) translate(0 -855.5)" >5</text><text x="756" y="952" font-size="27.7" fill="#4a6391" transform="translate(0 952) scale(1 1.04) translate(0 -952)" >6</text><text x="756.5" y="1000.5" font-size="27.7" fill="#4a6391" transform="translate(0 1000.5) scale(1 1.04) translate(0 -1000.5)" >7</text><text x="757.5" y="1068.5" font-size="27.7" fill="#4a6391" transform="translate(0 1068.5) scale(1 1.04) translate(0 -1068.5)" >8</text><text x="754" y="1321.4" font-size="27.7" fill="#4a6391" transform="translate(0 1321.4) scale(1 1.04) translate(0 -1321.4)" >9</text><text x="752.4" y="1657" font-size="27.7" fill="#4a6391" transform="translate(0 1657) scale(1 1.04) translate(0 -1657)" >10</text><text x="754" y="1901" font-size="27.7" fill="#4a6391" transform="translate(0 1901) scale(1 1.04) translate(0 -1901)" >11</text><text x="755.5" y="2094" font-size="27.7" fill="#4a6391" transform="translate(0 2094) scale(1 1.04) translate(0 -2094)" >12</text><text x="873" y="326" font-size="27.7" fill="#4a6391" transform="translate(0 326) scale(1 1.04) translate(0 -326)" >Retaining Ring</text><text x="867.7" y="374.5" font-size="27.7" fill="#4a6391" transform="translate(0 374.5) scale(1 1.04) translate(0 -374.5)" >Thrust&#160;&#160;Washer</text><text x="872.5" y="471.8" font-size="27.7" fill="#4a6391" transform="translate(0 471.8) scale(1 1.04) translate(0 -471.8)" >Shaft&#160;&#160;Retainer</text><text x="873.2" y="612" font-size="27.7" fill="#4a6391" transform="translate(0 612) scale(1 1.04) translate(0 -612)" >Up Shaft</text><text x="872" y="855.5" font-size="27.7" fill="#4a6391" transform="translate(0 855.5) scale(1 1.04) translate(0 -855.5)" >Short Bushing</text><text x="873" y="952" font-size="27.7" fill="#4a6391" transform="translate(0 952) scale(1 1.04) translate(0 -952)" >&quot;O&quot;Ring</text><text x="873" y="1000" font-size="27.7" fill="#4a6391" transform="translate(0 1000) scale(1 1.04) translate(0 -1000)" >long Bushing</text><text x="873" y="1068.3" font-size="27.7" fill="#4a6391" transform="translate(0 1068.3) scale(1 1.04) translate(0 -1068.3)" >Body</text><text x="870" y="1321" font-size="27.7" fill="#4a6391" transform="translate(0 1321) scale(1 1.04) translate(0 -1321)" >Body seat</text><text x="872" y="1656.7" font-size="27.7" fill="#4a6391" transform="translate(0 1656.7) scale(1 1.04) translate(0 -1656.7)" >Disc</text><text x="868" y="1901" font-size="27.7" fill="#4a6391" transform="translate(0 1901) scale(1 1.04) translate(0 -1901)" >Down Shaft</text><text x="870" y="2095.5" font-size="27.7" fill="#4a6391" transform="translate(0 2095.5) scale(1 1.04) translate(0 -2095.5)" >Plug</text><text x="1156" y="325.8" font-size="27.7" fill="#4a6391" transform="translate(0 325.8) scale(1 1.04) translate(0 -325.8)" >Sk7</text><text x="1148.6" y="374.6" font-size="27.7" fill="#4a6391" transform="translate(0 374.6) scale(1 1.04) translate(0 -374.6)" >Stainless Steel</text><text x="1144.4" y="423.2" font-size="27.7" fill="#4a6391" transform="translate(0 423.2) scale(1 1.04) translate(0 -423.2)" >Carbon&#160;&#160;&#160;Steel</text><text x="1144.4" y="472" font-size="27.7" fill="#4a6391" transform="translate(0 472) scale(1 1.04) translate(0 -472)" >Stainless Steel</text><text x="1144.4" y="520" font-size="27.7" fill="#4a6391" transform="translate(0 520) scale(1 1.04) translate(0 -520)" >Carbon&#160;&#160;&#160;Steel</text><text x="1143.7" y="612" font-size="27.7" fill="#4a6391" transform="translate(0 612) scale(1 1.04) translate(0 -612)" >SS410 SS304 SS431 SS316</text><text x="1142.7" y="660" font-size="27.7" fill="#4a6391" transform="translate(0 660) scale(1 1.04) translate(0 -660)" >MONEL&#160;K500&#160;&#160;17-4PH</text><text x="1143.7" y="709" font-size="27.7" fill="#4a6391" transform="translate(0 709) scale(1 1.04) translate(0 -709)" >C63000&#160;&#160;C92200</text><text x="1143.7" y="757.5" font-size="27.7" fill="#4a6391" transform="translate(0 757.5) scale(1 1.04) translate(0 -757.5)" >2507 2205</text><text x="1140.7" y="854.5" font-size="27.7" fill="#4a6391" transform="translate(0 854.5) scale(1 1.04) translate(0 -854.5)" >FRP</text><text x="1140.7" y="951.8" font-size="27.7" fill="#4a6391" transform="translate(0 951.8) scale(1 1.04) translate(0 -951.8)" >NBR&#160;&#160;VITON</text><text x="1140.7" y="1000" font-size="27.7" fill="#4a6391" transform="translate(0 1000) scale(1 1.04) translate(0 -1000)" >FRP</text><text x="1142.4" y="1068.3" font-size="27.7" fill="#4a6391" transform="translate(0 1068.3) scale(1 1.04) translate(0 -1068.3)" >GG20 GG25</text><text x="1148.5" y="1127" font-size="27.7" fill="#4a6391" transform="translate(0 1127) scale(1 1.04) translate(0 -1127)" >GGG40 GGG45 GGG50</text><text x="1147" y="1175.6" font-size="27.7" fill="#4a6391" transform="translate(0 1175.6) scale(1 1.04) translate(0 -1175.6)" >WCB WCC LCC LCB</text><text x="1146" y="1224" font-size="27.7" fill="#4a6391" transform="translate(0 1224) scale(1 1.04) translate(0 -1224)" >CF8 CF8M CF3 CF3M</text><text x="1146" y="1272.8" font-size="27.7" fill="#4a6391" transform="translate(0 1272.8) scale(1 1.04) translate(0 -1272.8)" >C95800 C95400 C95500</text><text x="1147.5" y="1321" font-size="27.7" fill="#4a6391" transform="translate(0 1321) scale(1 1.04) translate(0 -1321)" >NBR(BUNA-N)</text><text x="1145" y="1370" font-size="27.7" fill="#4a6391" transform="translate(0 1370) scale(1 1.04) translate(0 -1370)" >EPDM</text><text x="1145" y="1419.3" font-size="27.7" fill="#4a6391" transform="translate(0 1419.3) scale(1 1.04) translate(0 -1419.3)" >HEPDM</text><text x="1146" y="1467" font-size="27.7" fill="#4a6391" transform="translate(0 1467) scale(1 1.04) translate(0 -1467)" >FKM(VITON)</text><text x="1145" y="1515.6" font-size="27.7" fill="#4a6391" transform="translate(0 1515.6) scale(1 1.04) translate(0 -1515.6)" >Polychloroprene</text><text x="1149.5" y="1564" font-size="27.7" fill="#4a6391" transform="translate(0 1564) scale(1 1.04) translate(0 -1564)" >Natural Rubber</text><text x="1144" y="1656.7" font-size="27.7" fill="#4a6391" transform="translate(0 1656.7) scale(1 1.04) translate(0 -1656.7)" >GGG40 GGG45 GGG50</text><text x="1149" y="1706" font-size="27.7" fill="#4a6391" transform="translate(0 1706) scale(1 1.04) translate(0 -1706)" >WCB WCC LCC LCB</text><text x="1147" y="1755.7" font-size="27.7" fill="#4a6391" transform="translate(0 1755.7) scale(1 1.04) translate(0 -1755.7)" >CF8 CF8M CF3 CF3M</text><text x="1147" y="1803.8" font-size="27.7" fill="#4a6391" transform="translate(0 1803.8) scale(1 1.04) translate(0 -1803.8)" >C95800 C95400 C95500</text><text x="1153.8" y="1901" font-size="27.7" fill="#4a6391" transform="translate(0 1901) scale(1 1.04) translate(0 -1901)" >SS410 SS304 SS431 SS316</text><text x="1147" y="1949" font-size="27.7" fill="#4a6391" transform="translate(0 1949) scale(1 1.04) translate(0 -1949)" >MONEL&#160;K500&#160;&#160;17-4PH</text><text x="1148" y="1998.3" font-size="27.7" fill="#4a6391" transform="translate(0 1998.3) scale(1 1.04) translate(0 -1998.3)" >C63000&#160;&#160;C92200</text><text x="1148" y="2045.8" font-size="27.7" fill="#4a6391" transform="translate(0 2045.8) scale(1 1.04) translate(0 -2045.8)" >2507 2205</text><text x="1150" y="2095.5" font-size="27.7" fill="#4a6391" transform="translate(0 2095.5) scale(1 1.04) translate(0 -2095.5)" >Stainless Steel</text><text x="1147" y="1611.3" font-size="25.5" fill="#4a6391" transform="translate(0 1611.3) scale(1 1.04) translate(0 -1611.3)" >Sillicon Rubber</text><text x="743.5" y="2270" font-size="27.2" fill="#4a6391" transform="translate(0 2270) scale(1 1.04) translate(0 -2270)" >Page 4</text></g>
<g font-family="Liberation Sans" font-size="39" letter-spacing="0.92" fill="#d0d0d0" style="mix-blend-mode:multiply"><text transform="translate(-215.7,270.5) rotate(-30)">Tianjin Worlds Valve Co.,Ltd.</text><text transform="translate(-215.7,962.5) rotate(-30)">Tianjin Worlds Valve Co.,Ltd.</text><text transform="translate(-215.7,1654.5) rotate(-30)">Tianjin Worlds Valve Co.,Ltd.</text><text transform="translate(-215.7,2346.5) rotate(-30)">Tianjin Worlds Valve Co.,Ltd.</text><text transform="translate(609.3,270.5) rotate(-30)">Tianjin Worlds Valve Co.,Ltd.</text><text transform="translate(609.3,962.5) rotate(-30)">Tianjin Worlds Valve Co.,Ltd.</text><text transform="translate(609.3,1654.5) rotate(-30)">Tianjin Worlds Valve Co.,Ltd.</text><text transform="translate(609.3,2346.5) rotate(-30)">Tianjin Worlds Valve Co.,Ltd.</text><text transform="translate(1429.3,267.5) rotate(-30)">Tianjin Worlds Valve Co.,Ltd.</text><text transform="translate(1429.3,959.5) rotate(-30)">Tianjin Worlds Valve Co.,Ltd.</text><text transform="translate(1429.3,1651.5) rotate(-30)">Tianjin Worlds Valve Co.,Ltd.</text><text transform="translate(1429.3,2343.5) rotate(-30)">Tianjin Worlds Valve Co.,Ltd.</text></g>
</svg>
</body></html>
